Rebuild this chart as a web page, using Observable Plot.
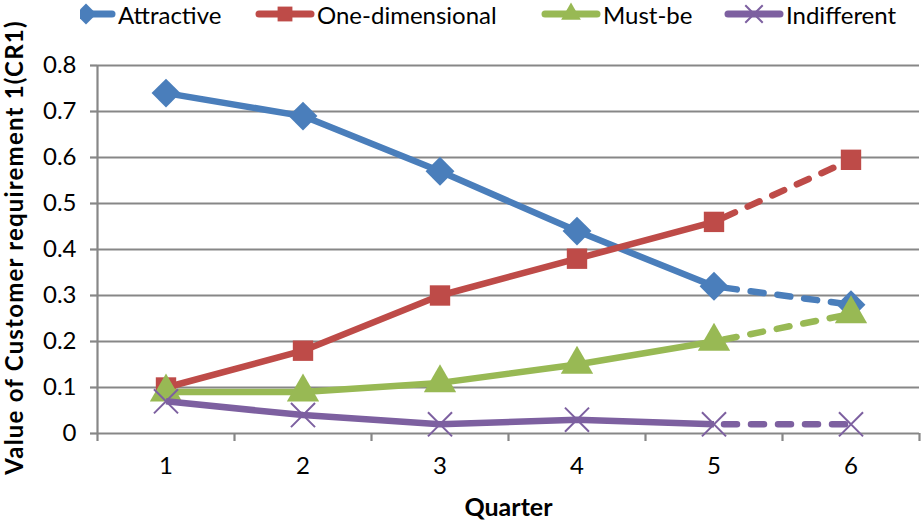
<!DOCTYPE html>
<html>
<head>
<meta charset="utf-8">
<script src="https://cdn.jsdelivr.net/npm/d3@7"></script>
<script src="https://cdn.jsdelivr.net/npm/@observablehq/plot@0.6"></script>
<style>
  html, body { margin: 0; padding: 0; background: #fff; }
  body { width: 921px; height: 521px; position: relative; overflow: hidden; font-family: Lato, "Open Sans", sans-serif; }
  #legend { position: absolute; left: 80px; top: 0; width: 841px; height: 28px; overflow: hidden; z-index: 2; }
  .item { position: absolute; top: 0; height: 28px; display: flex; align-items: center; font-size: 24px; color: #000; white-space: nowrap; }
  .item svg { display: block; margin-right: 2px; }
  #chart { position: absolute; left: 0; top: 25px; }
  .ylabel text { letter-spacing: 1.2px; }
</style>
</head>
<body>
<div id="legend"></div>
<div id="chart"></div>
<script>
const quarters = [1, 2, 3, 4, 5, 6];
const seriesNames = ["Attractive", "One-dimensional", "Must-be", "Indifferent"];
const attractive = [0.74, 0.69, 0.57, 0.44, 0.32, 0.28];
const oneDimensional = [0.10, 0.18, 0.30, 0.38, 0.46, 0.595];
const mustBe = [0.09, 0.09, 0.11, 0.15, 0.20, 0.26];
const indifferent = [0.07, 0.04, 0.02, 0.03, 0.02, 0.02];
const yTicks = [0, 0.1, 0.2, 0.3, 0.4, 0.5, 0.6, 0.7, 0.8];
const colors = ["#4A7EBB", "#BE4B48", "#98B954", "#7D60A0"];
const symbols = ["diamond2", "square", "triangle", "times"];
const forecastFrom = 5;

const values = [attractive, oneDimensional, mustBe, indifferent];
const data = [];
seriesNames.forEach((s, i) => quarters.forEach((q, j) => data.push({series: s, idx: i, q, v: values[i][j]})));

const font = 'Lato, "Open Sans", sans-serif';
const grid = "#878787";

const marks = [
  Plot.ruleY(yTicks, {stroke: grid, strokeWidth: 2.2, strokeOpacity: 1}),
  Plot.ruleX([0.5], {y1: 0, y2: 0.8, stroke: grid, strokeWidth: 2.2}),
  Plot.axisY({ticks: yTicks, tickSize: 7, tickPadding: 14, stroke: grid, strokeWidth: 2.2, tickFormat: d => d === 0 ? "0" : d.toFixed(1), fontSize: 24, label: null}),
  Plot.axisX({ticks: [0.5, 1.5, 2.5, 3.5, 4.5, 5.5, 6.5], tickSize: 8, text: null, stroke: grid, strokeWidth: 2.2, label: null}),
  Plot.axisX({ticks: quarters, tickSize: 0, tickPadding: 23, fontSize: 24, tickFormat: d => String(d), label: null})
];

seriesNames.forEach((s, i) => {
  const sd = data.filter(d => d.idx === i);
  marks.push(Plot.line(sd.filter(d => d.q <= forecastFrom), {x: "q", y: "v", stroke: colors[i], strokeWidth: 6.5, strokeLinejoin: "round", strokeLinecap: "butt"}));
  marks.push(Plot.line(sd.filter(d => d.q >= forecastFrom), {x: "q", y: "v", stroke: colors[i], strokeWidth: 6.5, strokeDasharray: "13,14", strokeDashoffset: -10, strokeLinecap: "round"}));
  if (symbols[i] === "times") {
    marks.push(Plot.dot(sd, {x: "q", y: "v", symbol: "times", r: 11, stroke: colors[i], strokeWidth: 2, fill: "none"}));
  } else {
    const r = symbols[i] === "square" ? 11.5 : symbols[i] === "triangle" ? 12 : 13;
    marks.push(Plot.dot(sd, {x: "q", y: "v", symbol: symbols[i], r, fill: colors[i], stroke: "none"}));
  }
});

marks.push(Plot.text(["Quarter"], {frameAnchor: "bottom", dy: 82, fontSize: 25, fontWeight: "bold"}));
marks.push(Plot.text(["Value of Customer requirement 1(CR1)"], {frameAnchor: "left", textAnchor: "middle", dx: -82, dy: -2, rotate: -90, fontSize: 24, fontWeight: "bold", className: "ylabel"}));

const chart = Plot.plot({
  width: 921,
  height: 496,
  marginLeft: 97,
  marginRight: 2,
  marginTop: 40,
  marginBottom: 88,
  style: {fontFamily: font, fontSize: "24px", color: "#000", background: "#fff", overflow: "visible"},
  x: {domain: [0.5, 6.5], axis: null},
  y: {domain: [0, 0.8], axis: null},
  marks
});
document.getElementById("chart").appendChild(chart);

// Legend (positions relative to legend box which starts at x=80)
const legendX = [56, 255, 541, 724];
const legend = document.getElementById("legend");
seriesNames.forEach((s, i) => {
  const div = document.createElement("div");
  div.className = "item";
  div.style.left = (legendX[i] - 80) + "px";
  const w = 60;
  const sw = d3.create("svg").attr("width", w).attr("height", 28);
  sw.append("line").attr("x1", 4).attr("x2", w - 4).attr("y1", 14).attr("y2", 14)
    .attr("stroke", colors[i]).attr("stroke-width", 7).attr("stroke-linecap", "round");
  const sym = {diamond2: d3.symbolDiamond2, square: d3.symbolSquare2, triangle: d3.symbolTriangle2, times: d3.symbolTimes}[symbols[i]];
  const size = symbols[i] === "times" ? 200 : 280;
  sw.append("path").attr("d", d3.symbol(sym, size)()).attr("transform", `translate(${w / 2},14)`)
    .attr("fill", symbols[i] === "times" ? "none" : colors[i])
    .attr("stroke", symbols[i] === "times" ? colors[i] : "none").attr("stroke-width", 2);
  div.appendChild(sw.node());
  const t = document.createElement("span");
  t.textContent = s;
  div.appendChild(t);
  legend.appendChild(div);
});
</script>
</body>
</html>
